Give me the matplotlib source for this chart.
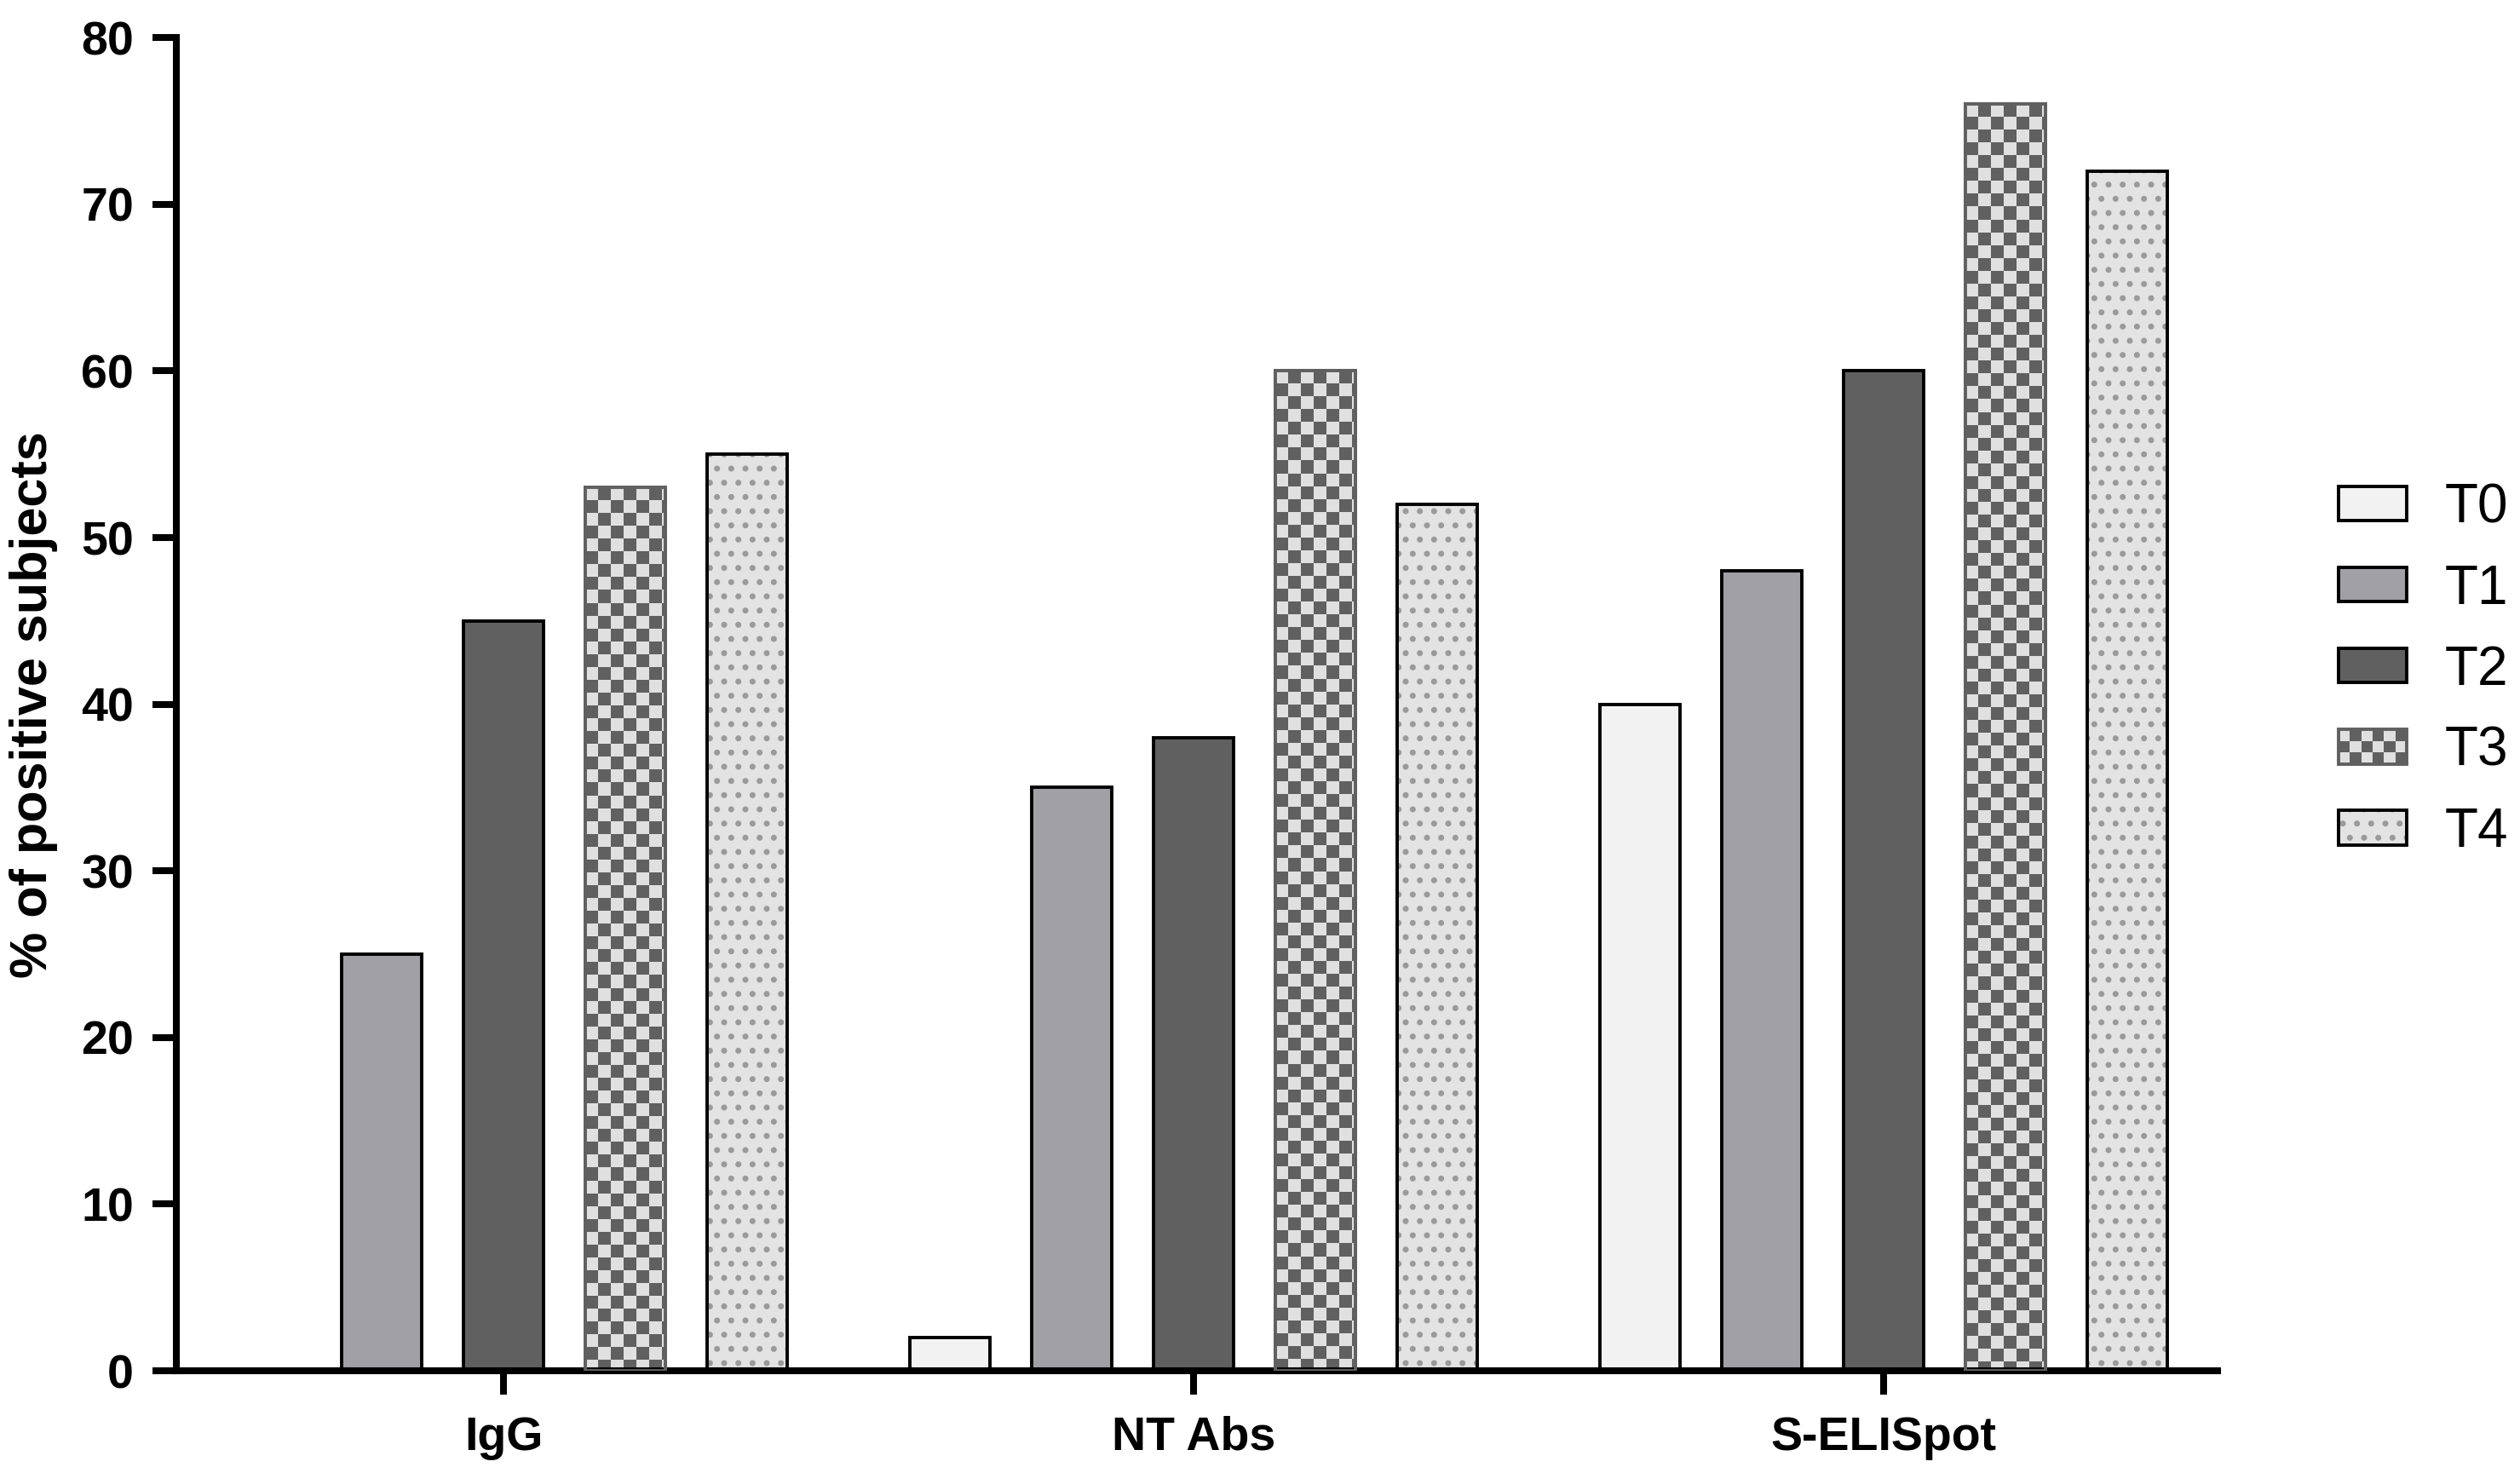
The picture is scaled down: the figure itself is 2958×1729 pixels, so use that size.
import numpy as np
import matplotlib
matplotlib.use('Agg')
import matplotlib.pyplot as plt
from matplotlib.patches import Patch, Rectangle
from matplotlib.legend_handler import HandlerBase

plt.rcParams['font.family'] = ['Liberation Sans', 'DejaVu Sans']

# data
groups = ['IgG', 'NT Abs', 'S-ELISpot']
series = ['T0', 'T1', 'T2', 'T3', 'T4']
t0 = [0, 2, 40]
t1 = [25, 35, 48]
t2 = [45, 38, 60]
t3 = [53, 60, 76]
t4 = [55, 52, 72]

light = '#f2f2f2'
mid = '#a1a0a4'
dark = '#606060'
chk_light = '#e0e0e0'
dot_fill = '#e3e3e3'

fig = plt.figure(figsize=(14.79, 8.645), dpi=200)
ax = fig.add_axes([0.070, 0.0694, 0.810, 0.905])

x = np.arange(len(groups))
pitch = 0.1767
w = 0.116
edge_lw = 1.4

ax.bar(x - 2 * pitch, t0, w, color=light, edgecolor='black', linewidth=edge_lw)
ax.bar(x - 1 * pitch, t1, w, color=mid, edgecolor='black', linewidth=edge_lw)
ax.bar(x, t2, w, color=dark, edgecolor='black', linewidth=edge_lw)
b3 = ax.bar(x + 1 * pitch, t3, w, color=chk_light, edgecolor=dark, linewidth=edge_lw, zorder=2)
plt.rcParams['hatch.linewidth'] = 1.3
ax.bar(x + 2 * pitch, t4, w, color=dot_fill, edgecolor='#9a9a9a', linewidth=0, hatch='..')
ax.bar(x + 2 * pitch, t4, w, fill=False, edgecolor='black', linewidth=edge_lw)

# checkerboard fill for T3, clipped to each bar
cx, cy = 0.0186, 0.77
for r in b3:
    x0 = r.get_x()
    h = r.get_height()
    nc = int(np.ceil(r.get_width() / cx))
    nr = int(np.ceil(h / cy))
    ii, jj = np.indices((nr, nc))
    img = (ii + jj) % 2
    im = ax.imshow(img, cmap=matplotlib.colors.ListedColormap([chk_light, dark]),
                   extent=(x0, x0 + nc * cx, h - nr * cy, h), origin='upper',
                   aspect='auto', interpolation='nearest', zorder=2.5)
    im.set_clip_path(r)
# grey outline on top
ax.bar(x + 1 * pitch, t3, w, fill=False, edgecolor=dark, linewidth=edge_lw, zorder=3)

ax.set_xlim(-0.474, 2.484)
ax.set_ylim(0, 80)
ax.set_yticks(np.arange(0, 81, 10))
ax.set_xticks(x)
ax.set_xticklabels(groups)

for s in ['top', 'right']:
    ax.spines[s].set_visible(False)
for s in ['left', 'bottom']:
    ax.spines[s].set_linewidth(2.9)
ax.tick_params(axis='both', width=2.9, length=10, labelsize=20)
ax.tick_params(axis='y', pad=8)
ax.tick_params(axis='x', pad=9)
for lab in ax.get_xticklabels() + ax.get_yticklabels():
    lab.set_fontweight('bold')
ax.set_ylabel('% of positive subjects', fontsize=22, fontweight='bold', labelpad=10)


class CheckerHandler(HandlerBase):
    def create_artists(self, legend, orig_handle, xdescent, ydescent,
                       width, height, fontsize, trans):
        arts = [Rectangle((-xdescent, -ydescent), width, height,
                          facecolor=chk_light, edgecolor='none', transform=trans)]
        nx, ny = 6, 3
        dw, dh = width / nx, height / ny
        for i in range(nx):
            for j in range(ny):
                if (i + j) % 2 == 1:
                    arts.append(Rectangle((-xdescent + i * dw, -ydescent + j * dh), dw, dh,
                                          facecolor=dark, edgecolor='none', transform=trans))
        arts.append(Rectangle((-xdescent, -ydescent), width, height, fill=False,
                              edgecolor=dark, lw=edge_lw, transform=trans))
        return arts


class DotHandler(HandlerBase):
    def create_artists(self, legend, orig_handle, xdescent, ydescent,
                       width, height, fontsize, trans):
        a = Rectangle((-xdescent, -ydescent), width, height, facecolor=dot_fill,
                      edgecolor='#9a9a9a', lw=0, hatch='..', transform=trans)
        b = Rectangle((-xdescent, -ydescent), width, height, fill=False,
                      edgecolor='black', lw=edge_lw, transform=trans)
        return [a, b]


h0 = Patch(facecolor=light, edgecolor='black', linewidth=edge_lw)
h1 = Patch(facecolor=mid, edgecolor='black', linewidth=edge_lw)
h2 = Patch(facecolor=dark, edgecolor='black', linewidth=edge_lw)
h3 = Patch(facecolor=chk_light)
h4 = Patch(facecolor=dot_fill)
fig.legend([h0, h1, h2, h3, h4], series, loc='center left',
           bbox_to_anchor=(0.928, 0.545), frameon=False, fontsize=23,
           handlelength=1.25, handleheight=0.6, handletextpad=0.7,
           labelspacing=0.55, borderpad=0, borderaxespad=0,
           handler_map={h3: CheckerHandler(), h4: DotHandler()})

fig.savefig('out.png', dpi=200)
